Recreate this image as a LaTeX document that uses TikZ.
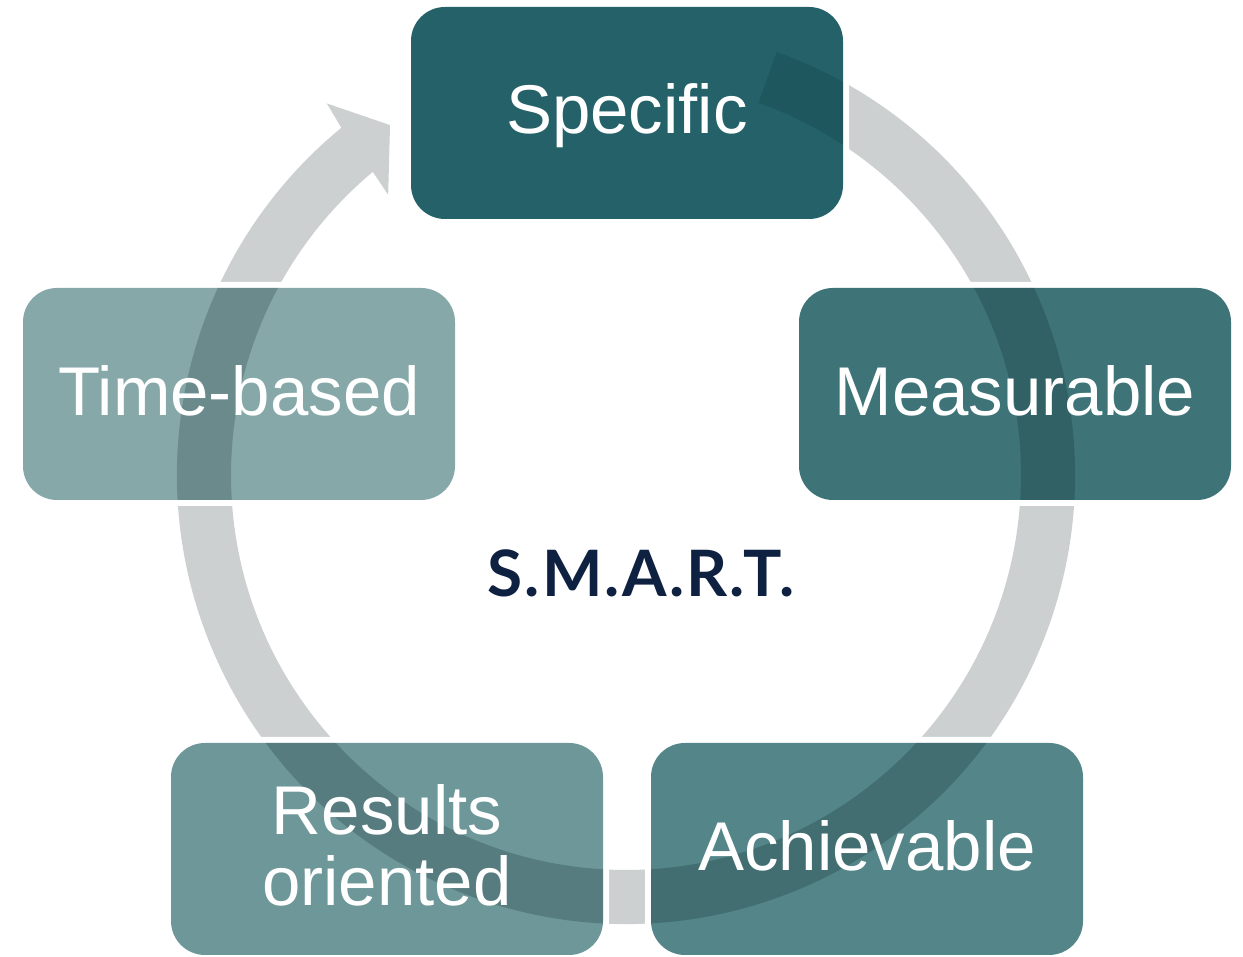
\documentclass[tikz,border=0pt]{standalone}
\usepackage{fontspec}
\setmainfont{Liberation Sans}
\newfontfamily\smartfont[LetterSpace=3.5]{Lato}
\definecolor{ringgray}{RGB}{204,208,209}
\definecolor{ringshade}{RGB}{0,20,25}
\definecolor{cSpec}{RGB}{36,97,104}
\definecolor{cMeas}{RGB}{62,116,120}
\definecolor{cAch}{RGB}{83,133,137}
\definecolor{cRes}{RGB}{109,151,153}
\definecolor{cTime}{RGB}{134,168,169}
\definecolor{navy}{RGB}{15,33,64}
\begin{document}
\begin{tikzpicture}[x=1pt,y=1pt,
  box/.style={rectangle, rounded corners=34, minimum width=432, minimum height=212,
    inner sep=0, outer sep=0, preaction={draw=white, line width=12}},
  lbl/.style={text=white, font=\fontsize{69}{71}\selectfont, inner sep=0, outer sep=0, anchor=base},
]
\useasboundingbox (0,0) rectangle (1243,957);
\fill[white] (0,0) rectangle (1243,957);

% centre of the cycle ring
\coordinate (C) at (626,482);

% circular arrow: ring from the top right, clockwise, head pointing at "Specific"
\def\ringpath{([shift={(C)}]70.4:449) arc[start angle=70.4, end angle=-230.65, radius=449]
  -- ([shift={(C)}]128.84:477) -- ([shift={(C)}]124:422)
  -- ([shift={(C)}]130.33:367.5) -- ([shift={(C)}]129.87:395)
  arc[start angle=-230.13, end angle=70.4, radius=395] -- cycle}
\fill[ringgray] \ringpath;

% the five blocks
\node[box, fill=cSpec] (spec) at (627,844) {};
\node[box, fill=cMeas] (meas) at (1015,563) {};
\node[box, fill=cAch]  (ach)  at (867,108) {};
\node[box, fill=cRes]  (res)  at (387,108) {};
\node[box, fill=cTime] (time) at (239,563) {};

% ring seen through the blocks
\begin{scope}
  \clip[rounded corners=34]
    (meas.south west) rectangle (meas.north east)
    (ach.south west)  rectangle (ach.north east)
    (res.south west)  rectangle (res.north east)
    (time.south west) rectangle (time.north east);
  \fill[ringshade, fill opacity=0.2] \ringpath;
\end{scope}
\begin{scope}
  \clip[rounded corners=34] (spec.south west) rectangle (spec.north east);
  \fill[ringshade, fill opacity=0.12] \ringpath;
\end{scope}

% labels
\node[lbl] (tspec) at ([yshift=-21]spec.center) {Specific};
\node[lbl] (tmeas) at ([yshift=-21.5]meas.center) {Measurable};
\node[lbl] (tach)  at ([yshift=-22]ach.center) {Achievable};
\node[lbl] (tres1) at ([yshift=14]res.center) {Results};
\node[lbl] (tres2) at ([yshift=-57]res.center) {oriented};
\node[lbl] (ttime) at ([yshift=-21.5]time.center) {Time-based};

\node[text=navy, font=\smartfont\bfseries\fontsize{64}{70}\selectfont, inner sep=0, anchor=base]
  (smart) at (641,360) {S.M.A.R.T.};
\end{tikzpicture}
\end{document}
